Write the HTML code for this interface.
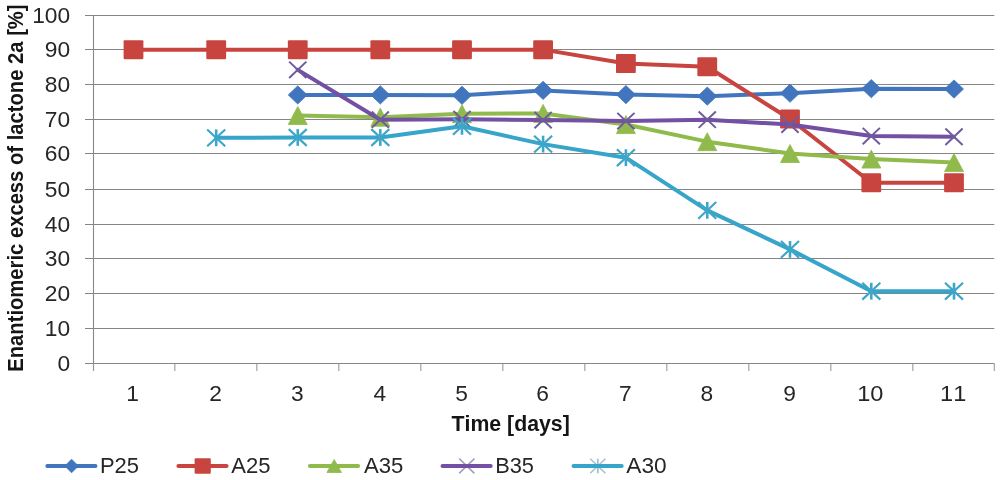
<!DOCTYPE html>
<html><head><meta charset="utf-8"><style>
html,body{margin:0;padding:0;background:#fff;}
svg{display:block;filter:blur(0.45px);font-family:"Liberation Sans", sans-serif;font-kerning:none;}
</style></head><body>
<svg width="1000" height="480" viewBox="0 0 1000 480">
<rect width="1000" height="480" fill="#fff"/>
<line x1="85" y1="363.50" x2="994.3" y2="363.50" stroke="#858585" stroke-width="1"/>
<line x1="85" y1="328.50" x2="994.3" y2="328.50" stroke="#858585" stroke-width="1"/>
<line x1="85" y1="293.50" x2="994.3" y2="293.50" stroke="#858585" stroke-width="1"/>
<line x1="85" y1="258.50" x2="994.3" y2="258.50" stroke="#858585" stroke-width="1"/>
<line x1="85" y1="224.50" x2="994.3" y2="224.50" stroke="#858585" stroke-width="1"/>
<line x1="85" y1="189.50" x2="994.3" y2="189.50" stroke="#858585" stroke-width="1"/>
<line x1="85" y1="153.50" x2="994.3" y2="153.50" stroke="#858585" stroke-width="1"/>
<line x1="85" y1="119.50" x2="994.3" y2="119.50" stroke="#858585" stroke-width="1"/>
<line x1="85" y1="84.50" x2="994.3" y2="84.50" stroke="#858585" stroke-width="1"/>
<line x1="85" y1="49.50" x2="994.3" y2="49.50" stroke="#858585" stroke-width="1"/>
<line x1="85" y1="15.50" x2="994.3" y2="15.50" stroke="#858585" stroke-width="1"/>
<line x1="93.5" y1="15" x2="93.5" y2="371" stroke="#888" stroke-width="1.1"/>
<line x1="93.50" y1="363.50" x2="93.50" y2="371" stroke="#999" stroke-width="1.1"/>
<line x1="174.82" y1="363.50" x2="174.82" y2="371" stroke="#999" stroke-width="1.1"/>
<line x1="256.82" y1="363.50" x2="256.82" y2="371" stroke="#999" stroke-width="1.1"/>
<line x1="338.82" y1="363.50" x2="338.82" y2="371" stroke="#999" stroke-width="1.1"/>
<line x1="420.82" y1="363.50" x2="420.82" y2="371" stroke="#999" stroke-width="1.1"/>
<line x1="502.82" y1="363.50" x2="502.82" y2="371" stroke="#999" stroke-width="1.1"/>
<line x1="584.82" y1="363.50" x2="584.82" y2="371" stroke="#999" stroke-width="1.1"/>
<line x1="666.82" y1="363.50" x2="666.82" y2="371" stroke="#999" stroke-width="1.1"/>
<line x1="748.82" y1="363.50" x2="748.82" y2="371" stroke="#999" stroke-width="1.1"/>
<line x1="830.82" y1="363.50" x2="830.82" y2="371" stroke="#999" stroke-width="1.1"/>
<line x1="912.82" y1="363.50" x2="912.82" y2="371" stroke="#999" stroke-width="1.1"/>
<line x1="994.30" y1="363.50" x2="994.30" y2="371" stroke="#999" stroke-width="1.1"/>
<text transform="translate(57.52,370.90) scale(1.0600,1)" font-size="21.5" fill="#262626">0</text>
<text transform="translate(44.84,335.90) scale(1.0600,1)" font-size="21.5" fill="#262626">10</text>
<text transform="translate(44.84,300.90) scale(1.0600,1)" font-size="21.5" fill="#262626">20</text>
<text transform="translate(44.84,265.90) scale(1.0600,1)" font-size="21.5" fill="#262626">30</text>
<text transform="translate(44.84,231.90) scale(1.0600,1)" font-size="21.5" fill="#262626">40</text>
<text transform="translate(44.84,196.90) scale(1.0600,1)" font-size="21.5" fill="#262626">50</text>
<text transform="translate(44.84,160.90) scale(1.0600,1)" font-size="21.5" fill="#262626">60</text>
<text transform="translate(44.84,126.90) scale(1.0600,1)" font-size="21.5" fill="#262626">70</text>
<text transform="translate(44.84,91.90) scale(1.0600,1)" font-size="21.5" fill="#262626">80</text>
<text transform="translate(44.84,56.90) scale(1.0600,1)" font-size="21.5" fill="#262626">90</text>
<text transform="translate(32.17,22.90) scale(1.0600,1)" font-size="21.5" fill="#262626">100</text>
<text transform="translate(126.35,401.30) scale(1.0600,1)" font-size="21.5" fill="#262626">1</text>
<text transform="translate(209.36,401.30) scale(1.0600,1)" font-size="21.5" fill="#262626">2</text>
<text transform="translate(290.98,401.30) scale(1.0600,1)" font-size="21.5" fill="#262626">3</text>
<text transform="translate(373.53,401.30) scale(1.0600,1)" font-size="21.5" fill="#262626">4</text>
<text transform="translate(455.18,401.30) scale(1.0600,1)" font-size="21.5" fill="#262626">5</text>
<text transform="translate(536.18,401.30) scale(1.0600,1)" font-size="21.5" fill="#262626">6</text>
<text transform="translate(619.05,401.30) scale(1.0600,1)" font-size="21.5" fill="#262626">7</text>
<text transform="translate(700.41,401.30) scale(1.0600,1)" font-size="21.5" fill="#262626">8</text>
<text transform="translate(783.17,401.30) scale(1.0600,1)" font-size="21.5" fill="#262626">9</text>
<text transform="translate(857.27,401.30) scale(1.0950,1)" font-size="21.5" fill="#262626">10</text>
<text transform="translate(940.08,401.30) scale(1.0950,1)" font-size="21.5" fill="#262626">11</text>
<text transform="translate(451.56,430.60) scale(0.9896,1)" font-size="21.5" font-weight="bold" fill="#151515">Time [days]</text>
<text transform="translate(22.80,371.75) rotate(-90) scale(0.8992,1)" font-size="22.5" font-weight="bold" fill="#151515">Enantiomeric excess of lactone 2a [%]</text>
<polyline points="297.75,94.95 380.30,94.95 462.00,95.30 543.10,90.42 625.90,94.60 707.25,96.17 790.00,93.21 871.30,88.68 954.00,89.03" fill="none" stroke="#4176BE" stroke-width="4.0" stroke-linejoin="round" stroke-linecap="round"/>
<path d="M297.75,85.85 L307.25,94.95 L297.75,104.05 L288.25,94.95Z" fill="#4176BE" stroke="#4176BE" stroke-width="0.8" stroke-linejoin="round"/>
<path d="M380.30,85.85 L389.80,94.95 L380.30,104.05 L370.80,94.95Z" fill="#4176BE" stroke="#4176BE" stroke-width="0.8" stroke-linejoin="round"/>
<path d="M462.00,86.20 L471.50,95.30 L462.00,104.40 L452.50,95.30Z" fill="#4176BE" stroke="#4176BE" stroke-width="0.8" stroke-linejoin="round"/>
<path d="M543.10,81.32 L552.60,90.42 L543.10,99.52 L533.60,90.42Z" fill="#4176BE" stroke="#4176BE" stroke-width="0.8" stroke-linejoin="round"/>
<path d="M625.90,85.50 L635.40,94.60 L625.90,103.70 L616.40,94.60Z" fill="#4176BE" stroke="#4176BE" stroke-width="0.8" stroke-linejoin="round"/>
<path d="M707.25,87.07 L716.75,96.17 L707.25,105.27 L697.75,96.17Z" fill="#4176BE" stroke="#4176BE" stroke-width="0.8" stroke-linejoin="round"/>
<path d="M790.00,84.11 L799.50,93.21 L790.00,102.31 L780.50,93.21Z" fill="#4176BE" stroke="#4176BE" stroke-width="0.8" stroke-linejoin="round"/>
<path d="M871.30,79.58 L880.80,88.68 L871.30,97.78 L861.80,88.68Z" fill="#4176BE" stroke="#4176BE" stroke-width="0.8" stroke-linejoin="round"/>
<path d="M954.00,79.93 L963.50,89.03 L954.00,98.13 L944.50,89.03Z" fill="#4176BE" stroke="#4176BE" stroke-width="0.8" stroke-linejoin="round"/>
<polyline points="133.50,49.64 216.20,49.64 297.75,49.64 380.30,49.64 462.00,49.64 543.10,49.64 625.90,63.58 707.25,66.72 790.00,119.00 871.30,182.79 954.00,182.79" fill="none" stroke="#C8443F" stroke-width="4.0" stroke-linejoin="round" stroke-linecap="round"/>
<rect x="123.60" y="40.14" width="19.80" height="19.00" rx="1.2" fill="#C8443F"/>
<rect x="206.30" y="40.14" width="19.80" height="19.00" rx="1.2" fill="#C8443F"/>
<rect x="287.85" y="40.14" width="19.80" height="19.00" rx="1.2" fill="#C8443F"/>
<rect x="370.40" y="40.14" width="19.80" height="19.00" rx="1.2" fill="#C8443F"/>
<rect x="452.10" y="40.14" width="19.80" height="19.00" rx="1.2" fill="#C8443F"/>
<rect x="533.20" y="40.14" width="19.80" height="19.00" rx="1.2" fill="#C8443F"/>
<rect x="616.00" y="54.08" width="19.80" height="19.00" rx="1.2" fill="#C8443F"/>
<rect x="697.35" y="57.22" width="19.80" height="19.00" rx="1.2" fill="#C8443F"/>
<rect x="780.10" y="109.50" width="19.80" height="19.00" rx="1.2" fill="#C8443F"/>
<rect x="861.40" y="173.29" width="19.80" height="19.00" rx="1.2" fill="#C8443F"/>
<rect x="944.10" y="173.29" width="19.80" height="19.00" rx="1.2" fill="#C8443F"/>
<polyline points="297.75,115.52 380.30,117.26 462.00,113.77 543.10,113.43 625.90,124.58 707.25,141.66 790.00,153.51 871.30,159.09 954.00,162.57" fill="none" stroke="#90BA4C" stroke-width="4.0" stroke-linejoin="round" stroke-linecap="round"/>
<path d="M297.75,106.52 L307.25,124.52 L288.25,124.52Z" fill="#90BA4C" stroke="#90BA4C" stroke-width="0.8" stroke-linejoin="round"/>
<path d="M380.30,108.26 L389.80,126.26 L370.80,126.26Z" fill="#90BA4C" stroke="#90BA4C" stroke-width="0.8" stroke-linejoin="round"/>
<path d="M462.00,104.77 L471.50,122.77 L452.50,122.77Z" fill="#90BA4C" stroke="#90BA4C" stroke-width="0.8" stroke-linejoin="round"/>
<path d="M543.10,104.43 L552.60,122.43 L533.60,122.43Z" fill="#90BA4C" stroke="#90BA4C" stroke-width="0.8" stroke-linejoin="round"/>
<path d="M625.90,115.58 L635.40,133.58 L616.40,133.58Z" fill="#90BA4C" stroke="#90BA4C" stroke-width="0.8" stroke-linejoin="round"/>
<path d="M707.25,132.66 L716.75,150.66 L697.75,150.66Z" fill="#90BA4C" stroke="#90BA4C" stroke-width="0.8" stroke-linejoin="round"/>
<path d="M790.00,144.51 L799.50,162.51 L780.50,162.51Z" fill="#90BA4C" stroke="#90BA4C" stroke-width="0.8" stroke-linejoin="round"/>
<path d="M871.30,150.09 L880.80,168.09 L861.80,168.09Z" fill="#90BA4C" stroke="#90BA4C" stroke-width="0.8" stroke-linejoin="round"/>
<path d="M954.00,153.57 L963.50,171.57 L944.50,171.57Z" fill="#90BA4C" stroke="#90BA4C" stroke-width="0.8" stroke-linejoin="round"/>
<polyline points="297.75,69.85 380.30,119.70 462.00,119.18 543.10,120.05 625.90,121.09 707.25,119.70 790.00,124.58 871.30,136.08 954.00,136.78" fill="none" stroke="#7350A4" stroke-width="4.0" stroke-linejoin="round" stroke-linecap="round"/>
<path d="M289.15,61.65 L306.35,78.05 M306.35,61.65 L289.15,78.05" stroke="#6e5c9c" stroke-width="2.0" fill="none"/>
<path d="M371.70,111.50 L388.90,127.90 M388.90,111.50 L371.70,127.90" stroke="#6e5c9c" stroke-width="2.0" fill="none"/>
<path d="M453.40,110.98 L470.60,127.38 M470.60,110.98 L453.40,127.38" stroke="#6e5c9c" stroke-width="2.0" fill="none"/>
<path d="M534.50,111.85 L551.70,128.25 M551.70,111.85 L534.50,128.25" stroke="#6e5c9c" stroke-width="2.0" fill="none"/>
<path d="M617.30,112.89 L634.50,129.29 M634.50,112.89 L617.30,129.29" stroke="#6e5c9c" stroke-width="2.0" fill="none"/>
<path d="M698.65,111.50 L715.85,127.90 M715.85,111.50 L698.65,127.90" stroke="#6e5c9c" stroke-width="2.0" fill="none"/>
<path d="M781.40,116.38 L798.60,132.78 M798.60,116.38 L781.40,132.78" stroke="#6e5c9c" stroke-width="2.0" fill="none"/>
<path d="M862.70,127.88 L879.90,144.28 M879.90,127.88 L862.70,144.28" stroke="#6e5c9c" stroke-width="2.0" fill="none"/>
<path d="M945.40,128.58 L962.60,144.98 M962.60,128.58 L945.40,144.98" stroke="#6e5c9c" stroke-width="2.0" fill="none"/>
<polyline points="216.20,137.83 297.75,137.48 380.30,137.48 462.00,126.32 543.10,144.10 625.90,157.69 707.25,210.33 790.00,249.37 871.30,291.20 954.00,291.20" fill="none" stroke="#37A4C9" stroke-width="4.0" stroke-linejoin="round" stroke-linecap="round"/>
<path d="M207.20,129.43 L225.20,146.23 M225.20,129.43 L207.20,146.23" stroke="#3ea6c8" stroke-width="2.2" fill="none"/><path d="M216.20,129.43 L216.20,146.23" stroke="#3ea6c8" stroke-width="2.6" fill="none"/>
<path d="M288.75,129.08 L306.75,145.88 M306.75,129.08 L288.75,145.88" stroke="#3ea6c8" stroke-width="2.2" fill="none"/><path d="M297.75,129.08 L297.75,145.88" stroke="#3ea6c8" stroke-width="2.6" fill="none"/>
<path d="M371.30,129.08 L389.30,145.88 M389.30,129.08 L371.30,145.88" stroke="#3ea6c8" stroke-width="2.2" fill="none"/><path d="M380.30,129.08 L380.30,145.88" stroke="#3ea6c8" stroke-width="2.6" fill="none"/>
<path d="M453.00,117.92 L471.00,134.72 M471.00,117.92 L453.00,134.72" stroke="#3ea6c8" stroke-width="2.2" fill="none"/><path d="M462.00,117.92 L462.00,134.72" stroke="#3ea6c8" stroke-width="2.6" fill="none"/>
<path d="M534.10,135.70 L552.10,152.50 M552.10,135.70 L534.10,152.50" stroke="#3ea6c8" stroke-width="2.2" fill="none"/><path d="M543.10,135.70 L543.10,152.50" stroke="#3ea6c8" stroke-width="2.6" fill="none"/>
<path d="M616.90,149.29 L634.90,166.09 M634.90,149.29 L616.90,166.09" stroke="#3ea6c8" stroke-width="2.2" fill="none"/><path d="M625.90,149.29 L625.90,166.09" stroke="#3ea6c8" stroke-width="2.6" fill="none"/>
<path d="M698.25,201.93 L716.25,218.73 M716.25,201.93 L698.25,218.73" stroke="#3ea6c8" stroke-width="2.2" fill="none"/><path d="M707.25,201.93 L707.25,218.73" stroke="#3ea6c8" stroke-width="2.6" fill="none"/>
<path d="M781.00,240.97 L799.00,257.77 M799.00,240.97 L781.00,257.77" stroke="#3ea6c8" stroke-width="2.2" fill="none"/><path d="M790.00,240.97 L790.00,257.77" stroke="#3ea6c8" stroke-width="2.6" fill="none"/>
<path d="M862.30,282.80 L880.30,299.60 M880.30,282.80 L862.30,299.60" stroke="#3ea6c8" stroke-width="2.2" fill="none"/><path d="M871.30,282.80 L871.30,299.60" stroke="#3ea6c8" stroke-width="2.6" fill="none"/>
<path d="M945.00,282.80 L963.00,299.60 M963.00,282.80 L945.00,299.60" stroke="#3ea6c8" stroke-width="2.2" fill="none"/><path d="M954.00,282.80 L954.00,299.60" stroke="#3ea6c8" stroke-width="2.6" fill="none"/>
<line x1="47.4" y1="466" x2="95.4" y2="466" stroke="#4176BE" stroke-width="4.2" stroke-linecap="round"/>
<path d="M71.60,459.20 L78.40,466.00 L71.60,472.80 L64.80,466.00Z" fill="#4176BE" stroke="#4176BE" stroke-width="0.8" stroke-linejoin="round"/>
<text transform="translate(99.95,472.60) scale(1.0214,1)" font-size="21.5" fill="#262626">P25</text>
<line x1="178.5" y1="466" x2="226.5" y2="466" stroke="#C8443F" stroke-width="4.2" stroke-linecap="round"/>
<rect x="194.60" y="458.30" width="16.20" height="15.40" rx="1.2" fill="#C8443F"/>
<text transform="translate(231.21,472.60) scale(1.0252,1)" font-size="21.5" fill="#262626">A25</text>
<line x1="310" y1="466" x2="358" y2="466" stroke="#90BA4C" stroke-width="4.2" stroke-linecap="round"/>
<path d="M334.20,459.50 L341.50,472.50 L326.90,472.50Z" fill="#90BA4C" stroke="#90BA4C" stroke-width="0.8" stroke-linejoin="round"/>
<text transform="translate(364.06,472.60) scale(1.0292,1)" font-size="21.5" fill="#262626">A35</text>
<path d="M459.20,458.60 L474.40,473.40 M474.40,458.60 L459.20,473.40" stroke="#a49cbc" stroke-width="1.5" fill="none"/>
<line x1="442.6" y1="466" x2="490.6" y2="466" stroke="#7350A4" stroke-width="4.2" stroke-linecap="round"/>
<text transform="translate(495.21,472.60) scale(1.0144,1)" font-size="21.5" fill="#262626">B35</text>
<path d="M590.20,458.70 L605.40,473.30 M605.40,458.70 L590.20,473.30" stroke="#9fc1d0" stroke-width="1.5" fill="none"/><path d="M597.80,458.70 L597.80,473.30" stroke="#9fc1d0" stroke-width="1.8" fill="none"/>
<line x1="573.6" y1="466" x2="621.6" y2="466" stroke="#37A4C9" stroke-width="4.2" stroke-linecap="round"/>
<text transform="translate(626.36,472.60) scale(1.0542,1)" font-size="21.5" fill="#262626">A30</text>
</svg>
</body></html>
